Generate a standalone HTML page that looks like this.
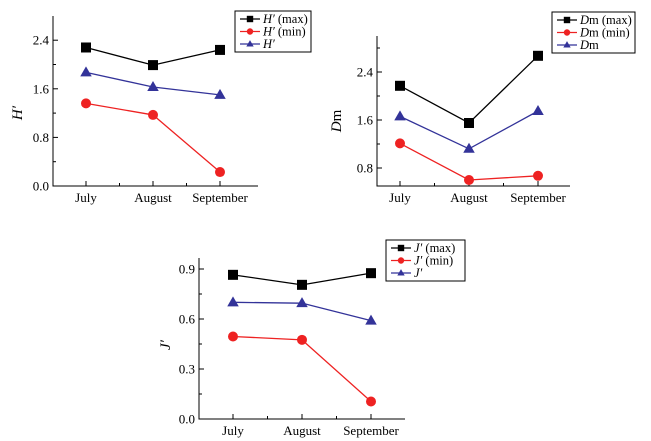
<!DOCTYPE html>
<html><head><meta charset="utf-8"><style>
body{margin:0;background:#fff;}
svg{display:block;font-family:"Liberation Serif",serif;}
</style></head><body>
<svg id="s" width="651" height="441"></svg>
<script>
const months=["July","August","September"];
const hMax=[2.28,1.99,2.24], hMin=[1.36,1.17,0.23], hMean=[1.87,1.63,1.50];
const hTicks=[0.0,0.8,1.6,2.4];
const dMax=[2.17,1.55,2.67], dMin=[1.21,0.60,0.67], dMean=[1.66,1.12,1.75];
const dTicks=[0.8,1.6,2.4];
const jMax=[0.865,0.805,0.875], jMin=[0.495,0.475,0.105], jMean=[0.70,0.695,0.59];
const jTicks=[0.0,0.3,0.6,0.9];
const NS="http://www.w3.org/2000/svg";
const svg=document.getElementById('s');
function el(t,a,p){const e=document.createElementNS(NS,t);for(const k in a)e.setAttribute(k,a[k]);(p||svg).appendChild(e);return e;}
function chart(o){
  const g=el('g',{});
  
  
  const y=v=>o.y0-(v-o.v0)*o.ppu;
  const x=i=>o.xs[0]+i*(o.xs[1]-o.xs[0]);
  const ax=el('path',{d:`M${o.ax},${o.top}V${o.y0}H${o.xend}`,stroke:'#000','stroke-width':1,fill:'none'},g);
  
  
  o.ticks.forEach(t=>{
    el('line',{x1:o.ax,x2:o.ax+5,y1:y(t),y2:y(t),stroke:'#000'},g);
    const tx=el('text',{x:o.ax-4,y:y(t)+4.5,'text-anchor':'end','font-size':13},g);
    tx.textContent=t.toFixed(1);
    
    
    const m=t+(o.ticks[1]-o.ticks[0])/2;
    if(y(m)>o.top) el('line',{x1:o.ax,x2:o.ax+3,y1:y(m),y2:y(m),stroke:'#000'},g);
  });
  months.forEach((m,i)=>{
    el('line',{x1:x(i),x2:x(i),y1:o.y0,y2:o.y0-5,stroke:'#000'},g);
    if(i<2) el('line',{x1:(x(i)+x(i+1))/2,x2:(x(i)+x(i+1))/2,y1:o.y0,y2:o.y0-3,stroke:'#000'},g);
    const tx=el('text',{x:x(i),y:o.y0+16,'text-anchor':'middle','font-size':13},g);
    tx.textContent=m;
    
    
  });
  const yt=el('text',{x:o.tx,y:o.ty,'text-anchor':'middle','font-size':15,'font-style':'italic',transform:`rotate(-90 ${o.tx} ${o.ty})`},g);
  yt.innerHTML=o.title;
  
  
  const ser=[[o.mx,'#000','sq'],[o.mn,'#ee2222','ci'],[o.mean,'#333399','tr']];
  function mark(cx,cy,k,c,s,par){
    if(k==='sq') return el('rect',{x:cx-s,y:cy-s,width:2*s,height:2*s,fill:c},par);
    if(k==='ci') return el('circle',{cx,cy,r:s,fill:c},par);
    return el('path',{d:`M${cx},${cy-s*1.2}L${cx+s*1.15},${cy+s*0.8}L${cx-s*1.15},${cy+s*0.8}Z`,fill:c},par);
  }
  ser.forEach(([d,c,k],si)=>{
    const pl=el('polyline',{points:d.map((v,i)=>x(i)+','+y(v)).join(' '),stroke:c,'stroke-width':1.3,fill:'none'},g);
    
    
    d.forEach((v,i)=>{
      const m=mark(x(i),y(v),k,c,5,g);
      
      
    });
  });
  const lg=el('g',{},g);
  
  
  el('rect',{x:o.lx,y:o.ly,width:o.lw,height:41,fill:'#fff',stroke:'#000'},lg);
  ser.forEach(([d,c,k],i)=>{
    const cy=o.ly+8+i*12.5;
    el('line',{x1:o.lx+5,x2:o.lx+25,y1:cy,y2:cy,stroke:c,'stroke-width':1.3},lg);
    mark(o.lx+15,cy,k,c,3.2,lg);
    const t=el('text',{x:o.lx+28,y:cy+4,'font-size':12.5},lg);
    t.innerHTML=o.leg[i];
    
    
  });
}
chart({name:'chart-h',ax:53,top:16,y0:186,v0:0,ppu:48.6/0.8,xend:258,xs:[86,153],ticks:hTicks,mx:hMax,mn:hMin,mean:hMean,
  title:"H′",tx:22,ty:113,lx:235,ly:11,lw:76,
  leg:["<tspan font-style='italic'>H′</tspan> (max)","<tspan font-style='italic'>H′</tspan> (min)","<tspan font-style='italic'>H′</tspan>"]});
chart({name:'chart-dm',ax:377,top:36,y0:186,v0:0.5,ppu:48/0.8,xend:570,xs:[400,469],ticks:dTicks,mx:dMax,mn:dMin,mean:dMean,
  title:"D<tspan font-style='normal'>m</tspan>",tx:341,ty:121,lx:552,ly:12,lw:83,
  leg:["<tspan font-style='italic'>D</tspan>m (max)","<tspan font-style='italic'>D</tspan>m (min)","<tspan font-style='italic'>D</tspan>m"]});
chart({name:'chart-j',ax:199,top:258,y0:419,v0:0,ppu:50/0.3,xend:405,xs:[233,302],ticks:jTicks,mx:jMax,mn:jMin,mean:jMean,
  title:"J′",tx:170,ty:345,lx:386,ly:240,lw:79,
  leg:["<tspan font-style='italic'>J′</tspan> (max)","<tspan font-style='italic'>J′</tspan> (min)","<tspan font-style='italic'>J′</tspan>"]});
</script>
</body></html>
